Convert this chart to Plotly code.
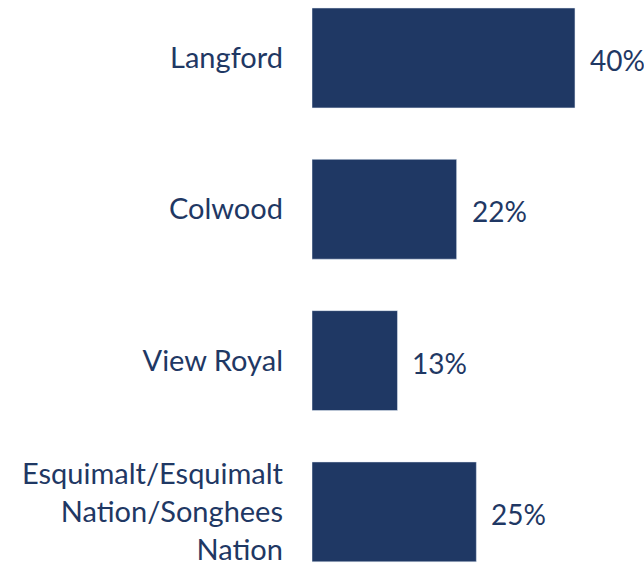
import plotly.graph_objects as go

# Share of respondents by community
communities = [
    "Langford",
    "Colwood",
    "View Royal",
    "Esquimalt/Esquimalt<br>Nation/Songhees<br>Nation",
]
shares = [40, 22, 13, 25]

NAVY = "#1F3864"
FONT = "Lato"

fig = go.Figure(
    go.Bar(
        x=shares,
        y=communities,
        orientation="h",
        marker_color=NAVY,
        width=0.66,
        hoverinfo="skip",
    )
)

# value labels to the right of each bar
for name, val in zip(communities, shares):
    fig.add_annotation(
        x=val,
        y=name,
        text=f"{val}%",
        showarrow=False,
        xanchor="left",
        xshift=13,
        yshift=-2,
        font=dict(family=FONT, size=28, color=NAVY),
    )

fig.update_layout(
    width=644,
    height=565,
    margin=dict(l=312, r=0, t=0, b=0),
    paper_bgcolor="white",
    plot_bgcolor="white",
    showlegend=False,
    font=dict(family=FONT, size=29, color=NAVY),
    xaxis=dict(range=[0, 50.5], visible=False, fixedrange=True),
    yaxis=dict(
        range=[3.351, -0.383],
        showline=False,
        showgrid=False,
        ticks="",
        ticklabelstandoff=28,
        automargin=False,
        fixedrange=True,
    ),
)

# drop the default body margin so the figure fills the window exactly
fig.write_html(
    "out.html",
    config={"displayModeBar": False},
    post_script="document.body.style.margin = '0';",
)
